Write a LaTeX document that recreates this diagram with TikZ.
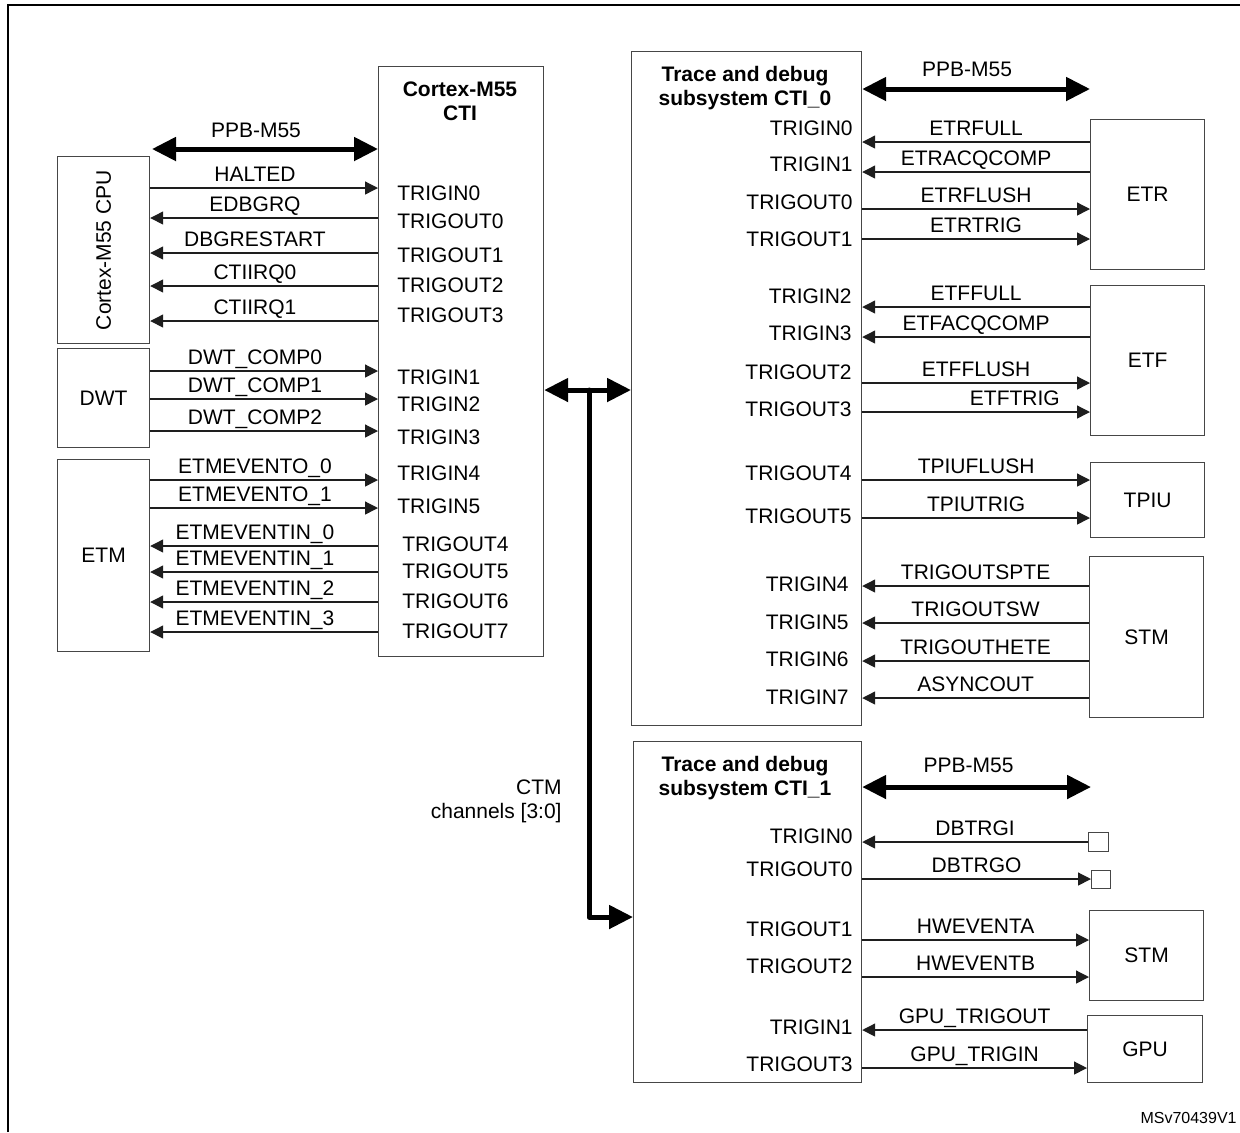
\documentclass[tikz,border=0pt]{standalone}
\usepackage{fontspec}
\setmainfont{Liberation Sans}
\usetikzlibrary{arrows.meta}

\tikzset{
  blk/.style={draw={rgb,255:red,70;green,70;blue,70}, line width=0.6pt, inner sep=0pt, anchor=north west},
  pin/.style={inner sep=0pt},
  sig/.style={inner sep=0pt, anchor=base, yshift=3.5pt},
  wire/.style={draw={rgb,255:red,30;green,30;blue,30}, line width=0.65pt},
  fwd/.style={wire, -{Triangle[length=6.5pt,width=6.5pt]}},
  bwd/.style={wire, {Triangle[length=6.5pt,width=6.5pt]}-},
  bus/.style={line width=2.5pt, line cap=round, line join=round},
  bothbus/.style={bus, {Triangle[length=12pt,width=11.5pt]}-{Triangle[length=12pt,width=11.5pt]}},
  tobus/.style={bus, -{Triangle[length=12pt,width=11.5pt]}},
  ttl/.style={align=center, inner sep=0pt, font=\fontsize{10.5}{12}\selectfont\bfseries},
}

\begin{document}
\begin{tikzpicture}[x=0.5pt,y=0.5pt,yscale=-1,xscale=1,
  every node/.append style={font=\fontsize{10.5}{12}\selectfont}]
\useasboundingbox (0,0) rectangle (1240,1132);

% Frame
\draw[line width=1pt] (8,1132) -- (8,5) -- (1240,5);

% Shape: Rectangle
\node (cti) [blk, minimum width=82.5pt, minimum height=295pt] at (378,66) {};
% Shape: Rectangle
\node (cpu) [blk, minimum width=46pt, minimum height=93.5pt] at (57,156) {};
% Shape: Rectangle
\node (dwt) [blk, minimum width=46pt, minimum height=49.5pt] at (57,348) {DWT};
% Shape: Rectangle
\node (etm) [blk, minimum width=46pt, minimum height=96pt] at (57,459) {ETM};
% Shape: Rectangle
\node (cti0) [blk, minimum width=115pt, minimum height=337pt] at (631,51) {};
% Shape: Rectangle
\node (etr) [blk, minimum width=57pt, minimum height=75pt] at (1090,119) {ETR};
% Shape: Rectangle
\node (etf) [blk, minimum width=57pt, minimum height=75pt] at (1090,285) {ETF};
% Shape: Rectangle
\node (tpiu) [blk, minimum width=57pt, minimum height=37.5pt] at (1090,462) {TPIU};
% Shape: Rectangle
\node (stma) [blk, minimum width=57pt, minimum height=80.5pt] at (1089,556) {STM};
% Shape: Rectangle
\node (cti1) [blk, minimum width=114pt, minimum height=170.5pt] at (633,741) {};
% Shape: Rectangle
\node (dbi) [blk, minimum width=10pt, minimum height=9.5pt] at (1088,832) {};
% Shape: Rectangle
\node (dbo) [blk, minimum width=9.5pt, minimum height=9pt] at (1091,870) {};
% Shape: Rectangle
\node (stmb) [blk, minimum width=57pt, minimum height=45pt] at (1089,910) {STM};
% Shape: Rectangle
\node (gpu) [blk, minimum width=57.5pt, minimum height=33.5pt] at (1087,1015) {GPU};

% Text Node
\node (cputxt) [rotate=90] at (cpu.center) {Cortex-M55 CPU};
% Text Node
\node (ctitxt) [ttl] at (460,101) {Cortex-M55\\CTI};
% Text Node
\node (cti0txt) [ttl] at (745,88) {Trace and debug\\subsystem CTI\_0};
% Text Node
\node (cti1txt) [ttl] at (745,778) {Trace and debug\\subsystem CTI\_1};
% Text Node
\node (ctmtxt) [align=right, anchor=east, inner sep=0pt] at (562,801) {CTM\\channels [3:0]};
% Text Node
\node (ref) [anchor=east, inner sep=0pt, font=\fontsize{8}{9}\selectfont] at (1237,1118) {MSv70439V1};

% Text Node
\node (m55in0) [pin, anchor=west] at (397,193) {TRIGIN0};
\node (m55out0) [pin, anchor=west] at (397,221) {TRIGOUT0};
\node (m55out1) [pin, anchor=west] at (397,255) {TRIGOUT1};
\node (m55out2) [pin, anchor=west] at (397,285) {TRIGOUT2};
\node (m55out3) [pin, anchor=west] at (397,315) {TRIGOUT3};
\node (m55in1) [pin, anchor=west] at (397,377) {TRIGIN1};
\node (m55in2) [pin, anchor=west] at (397,404) {TRIGIN2};
\node (m55in3) [pin, anchor=west] at (397,437) {TRIGIN3};
\node (m55in4) [pin, anchor=west] at (397,473) {TRIGIN4};
\node (m55in5) [pin, anchor=west] at (397,506) {TRIGIN5};
\node (m55out4) [pin, anchor=west] at (402,544) {TRIGOUT4};
\node (m55out5) [pin, anchor=west] at (402,571) {TRIGOUT5};
\node (m55out6) [pin, anchor=west] at (402,601) {TRIGOUT6};
\node (m55out7) [pin, anchor=west] at (402,631) {TRIGOUT7};

% Text Node
\node (t0in0) [pin, anchor=east] at (853,128) {TRIGIN0};
\node (t0in1) [pin, anchor=east] at (853,164) {TRIGIN1};
\node (t0out0) [pin, anchor=east] at (853,202) {TRIGOUT0};
\node (t0out1) [pin, anchor=east] at (853,239) {TRIGOUT1};
\node (t0in2) [pin, anchor=east] at (852,296) {TRIGIN2};
\node (t0in3) [pin, anchor=east] at (852,333) {TRIGIN3};
\node (t0out2) [pin, anchor=east] at (852,372) {TRIGOUT2};
\node (t0out3) [pin, anchor=east] at (852,409) {TRIGOUT3};
\node (t0out4) [pin, anchor=east] at (852,473) {TRIGOUT4};
\node (t0out5) [pin, anchor=east] at (852,516) {TRIGOUT5};
\node (t0in4) [pin, anchor=east] at (849,584) {TRIGIN4};
\node (t0in5) [pin, anchor=east] at (849,622) {TRIGIN5};
\node (t0in6) [pin, anchor=east] at (849,659) {TRIGIN6};
\node (t0in7) [pin, anchor=east] at (849,697) {TRIGIN7};

% Text Node
\node (t1in0) [pin, anchor=east] at (853,836) {TRIGIN0};
\node (t1out0) [pin, anchor=east] at (853,869) {TRIGOUT0};
\node (t1out1) [pin, anchor=east] at (853,929) {TRIGOUT1};
\node (t1out2) [pin, anchor=east] at (853,966) {TRIGOUT2};
\node (t1in1) [pin, anchor=east] at (853,1027) {TRIGIN1};
\node (t1out3) [pin, anchor=east] at (853,1064) {TRIGOUT3};

% Bus
\coordinate (ppbL) at (152,149);
\coordinate (ppbA) at (1090,89);
\coordinate (ppbB) at (1091,787);
\coordinate (ctm) at (589,390);
\coordinate (ctmb) at (589,917);
\draw[bothbus] (ppbL) -- node[sig, pos=0.46, yshift=2.2pt] {PPB-M55} (cti.west |- ppbL);
\draw[bothbus] (cti0.east |- ppbA) -- node[sig, pos=0.46, yshift=2.7pt] {PPB-M55} (ppbA);
\draw[bothbus] (cti1.east |- ppbB) -- node[sig, pos=0.465, yshift=3.7pt] {PPB-M55} (ppbB);
\draw[bothbus] (cti.east |- ctm) -- (cti0.west |- ctm);
\draw[tobus] (ctm) -- (ctmb) -- (cti1.west |- ctmb);

% Connection
\draw[fwd] (cpu.east |- 0,188) -- node[sig, pos=0.46] {HALTED} (cti.west |- 0,188);
\draw[bwd] (cpu.east |- 0,218) -- node[sig, pos=0.46] {EDBGRQ} (cti.west |- 0,218);
\draw[bwd] (cpu.east |- 0,253) -- node[sig, pos=0.46] {DBGRESTART} (cti.west |- 0,253);
\draw[bwd] (cpu.east |- 0,286) -- node[sig, pos=0.46] {CTIIRQ0} (cti.west |- 0,286);
\draw[bwd] (cpu.east |- 0,321) -- node[sig, pos=0.46] {CTIIRQ1} (cti.west |- 0,321);
% Connection
\draw[fwd] (dwt.east |- 0,371) -- node[sig, pos=0.46] {DWT\_COMP0} (cti.west |- 0,371);
\draw[fwd] (dwt.east |- 0,399) -- node[sig, pos=0.46] {DWT\_COMP1} (cti.west |- 0,399);
\draw[fwd] (dwt.east |- 0,431) -- node[sig, pos=0.46] {DWT\_COMP2} (cti.west |- 0,431);
% Connection
\draw[fwd] (etm.east |- 0,480) -- node[sig, pos=0.46] {ETMEVENTO\_0} (cti.west |- 0,480);
\draw[fwd] (etm.east |- 0,508) -- node[sig, pos=0.46] {ETMEVENTO\_1} (cti.west |- 0,508);
\draw[bwd] (etm.east |- 0,546) -- node[sig, pos=0.46] {ETMEVENTIN\_0} (cti.west |- 0,546);
\draw[bwd] (etm.east |- 0,572) -- node[sig, pos=0.46] {ETMEVENTIN\_1} (cti.west |- 0,572);
\draw[bwd] (etm.east |- 0,602) -- node[sig, pos=0.46] {ETMEVENTIN\_2} (cti.west |- 0,602);
\draw[bwd] (etm.east |- 0,632) -- node[sig, pos=0.46] {ETMEVENTIN\_3} (cti.west |- 0,632);

% Connection
\draw[bwd] (cti0.east |- 0,142) -- node[sig] {ETRFULL} (etr.west |- 0,142);
\draw[bwd] (cti0.east |- 0,172) -- node[sig] {ETRACQCOMP} (etr.west |- 0,172);
\draw[fwd] (cti0.east |- 0,209) -- node[sig] {ETRFLUSH} (etr.west |- 0,209);
\draw[fwd] (cti0.east |- 0,239) -- node[sig] {ETRTRIG} (etr.west |- 0,239);
% Connection
\draw[bwd] (cti0.east |- 0,307) -- node[sig] {ETFFULL} (etf.west |- 0,307);
\draw[bwd] (cti0.east |- 0,337) -- node[sig] {ETFACQCOMP} (etf.west |- 0,337);
\draw[fwd] (cti0.east |- 0,383) -- node[sig] {ETFFLUSH} (etf.west |- 0,383);
\draw[fwd] (cti0.east |- 0,412) -- node[sig, pos=0.67] {ETFTRIG} (etf.west |- 0,412);
% Connection
\draw[fwd] (cti0.east |- 0,480) -- node[sig] {TPIUFLUSH} (tpiu.west |- 0,480);
\draw[fwd] (cti0.east |- 0,518) -- node[sig] {TPIUTRIG} (tpiu.west |- 0,518);
% Connection
\draw[bwd] (cti0.east |- 0,586) -- node[sig] {TRIGOUTSPTE} (stma.west |- 0,586);
\draw[bwd] (cti0.east |- 0,623) -- node[sig] {TRIGOUTSW} (stma.west |- 0,623);
\draw[bwd] (cti0.east |- 0,661) -- node[sig] {TRIGOUTHETE} (stma.west |- 0,661);
\draw[bwd] (cti0.east |- 0,698) -- node[sig] {ASYNCOUT} (stma.west |- 0,698);

% Connection
\draw[bwd] (cti1.east |- 0,842) -- node[sig] {DBTRGI} (dbi.west |- 0,842);
\draw[fwd] (cti1.east |- 0,879) -- node[sig] {DBTRGO} (dbo.west |- 0,879);
\draw[fwd] (cti1.east |- 0,940) -- node[sig] {HWEVENTA} (stmb.west |- 0,940);
\draw[fwd] (cti1.east |- 0,977) -- node[sig] {HWEVENTB} (stmb.west |- 0,977);
\draw[bwd] (cti1.east |- 0,1030) -- node[sig] {GPU\_TRIGOUT} (gpu.west |- 0,1030);
\draw[fwd] (cti1.east |- 0,1068) -- node[sig] {GPU\_TRIGIN} (gpu.west |- 0,1068);

\end{tikzpicture}
\end{document}
